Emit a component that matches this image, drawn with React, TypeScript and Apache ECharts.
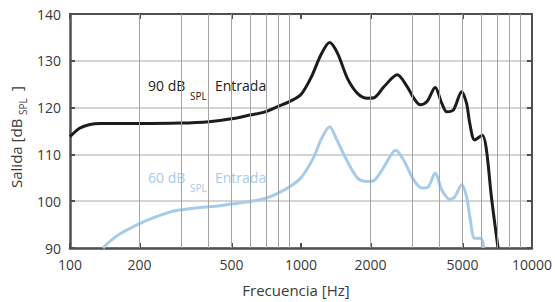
import React, { useEffect, useRef } from "react";
import * as echarts from "echarts";

const tickFreqs = [100, 200, 500, 1000, 2000, 5000, 10000];
const gridFreqs = [200, 300, 400, 500, 600, 700, 800, 900, 2000, 3000, 4000, 5000, 6000, 7000, 8000, 9000];
const yMin = 90;
const yMax = 140;
const yStep = 10;

const freq90 = [100, 110, 122, 135, 200, 300, 400, 500, 600, 700, 800, 900, 1000, 1110, 1220, 1330, 1440, 1590, 1760, 1940, 2070, 2290, 2610, 2880, 3080, 3280, 3510, 3810, 4070, 4280, 4570, 4960, 5210, 5380, 5650, 6100, 6350, 6670, 7130];
const level90 = [113.8, 115.6, 116.4, 116.6, 116.6, 116.7, 117.0, 117.6, 118.4, 119.1, 120.3, 121.4, 122.8, 126.6, 131.3, 133.9, 131.6, 126.2, 123.0, 122.0, 122.1, 124.5, 127.0, 124.5, 122.0, 120.6, 121.3, 124.3, 120.9, 119.1, 119.5, 123.4, 120.9, 116.6, 113.1, 114.1, 111.0, 101.0, 90.0];

const freq60 = [139, 148, 164, 187, 220, 260, 297, 361, 426, 502, 612, 700, 800, 900, 1000, 1130, 1220, 1330, 1430, 1550, 1760, 1940, 2070, 2290, 2570, 2780, 3080, 3340, 3560, 3810, 4070, 4410, 4640, 4960, 5210, 5380, 5650, 6000, 6190];
const level60 = [90.0, 91.3, 93.0, 94.5, 96.1, 97.4, 98.1, 98.6, 98.9, 99.4, 100.0, 100.6, 101.8, 103.2, 105.0, 109.2, 113.1, 115.9, 113.1, 109.5, 104.9, 104.2, 104.4, 107.4, 110.9, 108.8, 104.5, 102.8, 103.1, 106.0, 102.4, 100.4, 101.0, 103.5, 101.0, 96.7, 92.1, 92.1, 90.0];

const FONT = "Open Sans";
const TEXT = "#3a3a3a";
const BLACK = "#1c1c1c";
const BLUE = "#a7cbea";
const FRAME = "#505050";
const GRID_H = "#c6c6c6";
const GRID_V = "#a3a3a3";

const lg = (f: number) => Math.log10(f);

export default function App() {
  const ref = useRef<HTMLDivElement>(null);
  useEffect(() => {
    if (!ref.current) return;
    const chart = echarts.init(ref.current, undefined, { renderer: "svg" });
    const tickVals = tickFreqs.map(lg);
    const xBase = {
      type: "value" as const,
      min: 2,
      max: 4,
      splitLine: { show: false },
    };
    const option: any = {
      animation: false,
      grid: { left: 70, right: 19, top: 14, bottom: 54 },
      xAxis: [
        {
          ...xBase,
          position: "bottom",
          axisLine: { show: true, lineStyle: { color: FRAME, width: 2.5 } },
          axisTick: { show: true, inside: true, length: 5, customValues: tickVals, lineStyle: { color: FRAME, width: 2 } },
          axisLabel: {
            show: true,
            customValues: tickVals,
            formatter: (v: number) => String(Math.round(Math.pow(10, v))),
            color: TEXT,
            fontFamily: FONT,
            fontSize: 14,
            margin: 9,
          },
        },
        {
          ...xBase,
          position: "top",
          axisLine: { show: true, lineStyle: { color: FRAME, width: 2 } },
          axisTick: { show: true, inside: true, length: 5, customValues: tickVals, lineStyle: { color: FRAME, width: 2 } },
          axisLabel: { show: false },
        },
      ],
      yAxis: [
        {
          type: "value",
          min: yMin,
          max: yMax,
          interval: yStep,
          position: "left",
          axisLine: { show: true, lineStyle: { color: FRAME, width: 2.5 } },
          axisTick: { show: true, inside: true, length: 5, lineStyle: { color: FRAME, width: 2 } },
          axisLabel: { color: TEXT, fontFamily: FONT, fontSize: 14, margin: 9 },
          splitLine: { show: true, lineStyle: { color: GRID_H, width: 1.5 } },
        },
        {
          type: "value",
          min: yMin,
          max: yMax,
          interval: yStep,
          position: "right",
          axisLine: { show: true, lineStyle: { color: FRAME, width: 2 } },
          axisTick: { show: true, inside: true, length: 5, lineStyle: { color: FRAME, width: 2 } },
          axisLabel: { show: false },
          splitLine: { show: false },
        },
      ],
      series: [
        {
          type: "line",
          z: 1,
          data: [[2, 90]],
          symbol: "none",
          lineStyle: { opacity: 0 },
          silent: true,
          markLine: {
            silent: true,
            symbol: ["none", "none"],
            label: { show: false },
            lineStyle: { type: "solid", color: GRID_V, width: 1 },
            emphasis: { disabled: true },
            data: gridFreqs.map((f) => ({ xAxis: lg(f) })),
          },
        },
        {
          type: "line",
          z: 3,
          smooth: 0.3,
          symbol: "none",
          lineStyle: { color: BLUE, width: 3 },
          data: freq60.map((f, i) => [lg(f), level60[i]]),
        },
        {
          type: "line",
          z: 4,
          smooth: 0.3,
          symbol: "none",
          lineStyle: { color: BLACK, width: 3 },
          data: freq90.map((f, i) => [lg(f), level90[i]]),
        },
      ],
      graphic: [
        { type: "text", left: 148, top: 78, style: { text: "90 dB", fill: BLACK, font: `14px "${FONT}"` } },
        { type: "text", left: 190, top: 91, style: { text: "SPL", fill: BLACK, font: `10px "${FONT}"` } },
        { type: "text", left: 215, top: 78, style: { text: "Entrada", fill: BLACK, font: `14px "${FONT}"` } },
        { type: "text", left: 148, top: 170, style: { text: "60 dB", fill: BLUE, font: `14px "${FONT}"` } },
        { type: "text", left: 190, top: 183, style: { text: "SPL", fill: BLUE, font: `10px "${FONT}"` } },
        { type: "text", left: 215, top: 170, style: { text: "Entrada", fill: BLUE, font: `14px "${FONT}"` } },
        {
          type: "text",
          x: 296,
          y: 290,
          style: { text: "Frecuencia [Hz]", fill: TEXT, font: `15px "${FONT}"`, align: "center", verticalAlign: "middle" },
        },
        {
          type: "group",
          x: 8,
          y: 188,
          rotation: Math.PI / 2,
          children: [
            { type: "text", x: 0, y: 0, style: { text: "Salida [dB", fill: TEXT, font: `15px "${FONT}"` } },
            { type: "text", x: 73, y: 10, style: { text: "SPL", fill: TEXT, font: `10px "${FONT}"` } },
            { type: "text", x: 97, y: 0, style: { text: "]", fill: TEXT, font: `15px "${FONT}"` } },
          ],
        },
      ],
    };
    chart.setOption(option);
    return () => chart.dispose();
  }, []);
  return <div ref={ref} style={{ width: 555, height: 302, position: "absolute", left: 0, top: 0 }} />;
}
